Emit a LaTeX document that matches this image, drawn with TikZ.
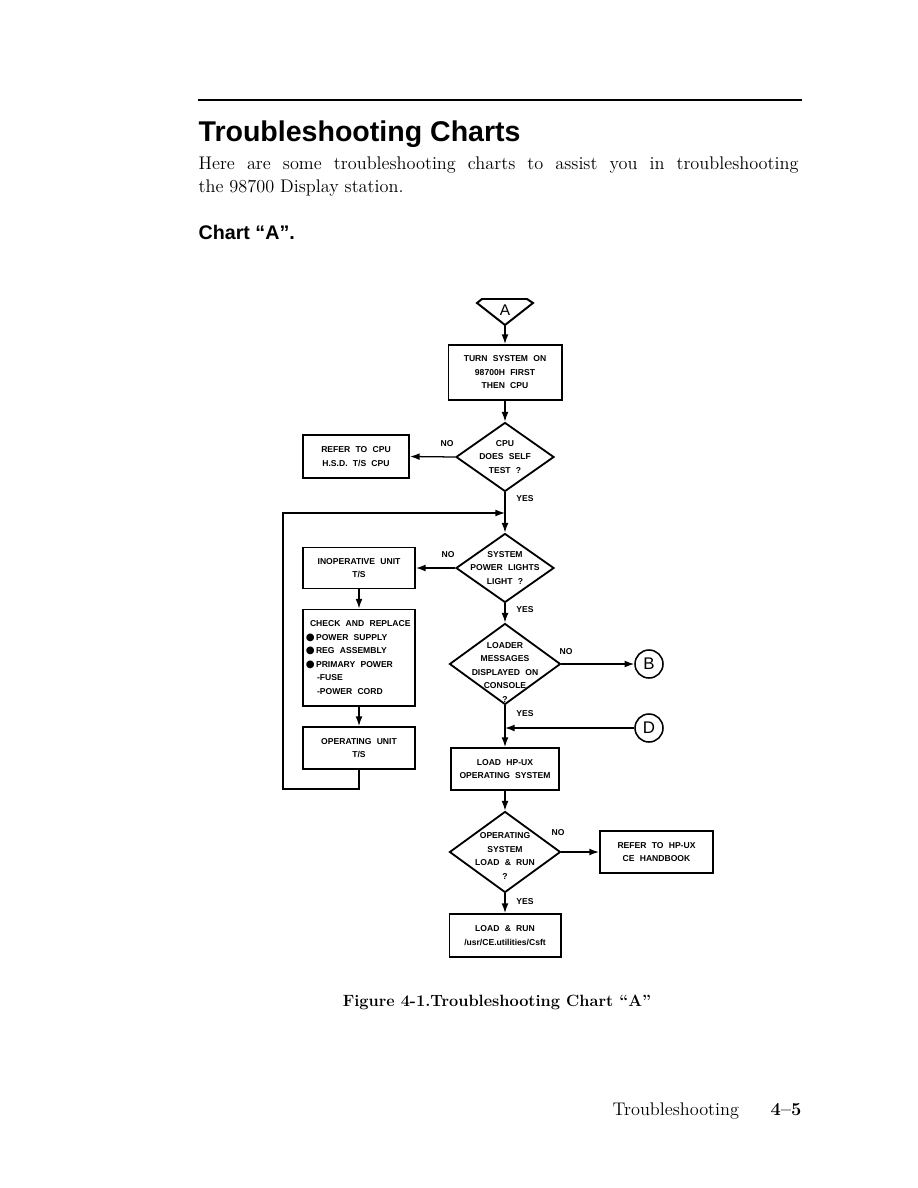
\documentclass[tikz,border=0pt]{standalone}
\usepackage{fontspec}
\setsansfont{Liberation Sans}
\newfontfamily\chartfont[WordSpace=2.2]{Liberation Sans}
\newfontfamily\symfont{DejaVu Sans}
\usetikzlibrary{arrows.meta, positioning, shapes.geometric}
\newcommand{\blt}{{\symfont\fontsize{7.2}{7.2}\selectfont ●}\,}
\tikzset{
  every picture/.style={line width=0.9pt},
  chart/.style={font=\chartfont\bfseries\fontsize{6.1}{9.6}\selectfont},
  box/.style={chart, draw, line width=1.4pt, align=center, inner sep=2pt},
  dec/.style={draw, diamond, line width=1.3pt, inner sep=0pt, minimum width=#1},
  dtext/.style={chart, align=center, inner sep=0pt},
  lbl/.style={chart, inner sep=0pt},
  arrow/.style={-{Latex[length=2.4mm, width=1.7mm]}, line width=0.9pt},
  cnr/.style={draw, circle, minimum size=0.7cm, inner sep=0pt, line width=1.1pt, font=\sffamily\fontsize{12}{12}\selectfont},
  title/.style={font=\sffamily\bfseries\fontsize{20.3}{24}\selectfont, inner sep=0pt},
  subtitle/.style={font=\sffamily\bfseries\fontsize{14}{17}\selectfont, inner sep=0pt},
  body/.style={font=\fontsize{13}{16}\selectfont, inner sep=0pt},
}
\begin{document}
\begin{tikzpicture}[x=0.025cm, y=-0.025cm]
  \useasboundingbox (0,0) rectangle (918,1188);

  % page heading
  \draw[line width=1.5pt] (198,100) -- (802,100);
  \node[title, anchor=base west] (head) at (198,142) {Troubleshooting Charts};
  \node[body, anchor=base west] (intro1) at (198,170) {\makebox[426.6pt][s]{Here are some troubleshooting charts to assist you in troubleshooting}};
  \node[body, anchor=base west] (intro2) at (198,193) {the 98700 Display station.};
  \node[subtitle, anchor=base west] (charta) at (198,240) {Chart “A”.};

  % off-page connector A
  \draw[line width=1.4pt] (482,299) -- (527,299) -- (533,303) -- (505,325) -- (477,303) -- cycle;
  \node[font=\sffamily\fontsize{11}{11}\selectfont, inner sep=0pt] (pa) at (505,310) {A};
  \coordinate (atip) at (505,325);

  % main column
  \node[box, minimum width=2.825cm, minimum height=1.375cm] (turn) at (505,372.5) {TURN SYSTEM ON\\98700H FIRST\\THEN CPU};
  \node[dec=2.45cm, minimum height=1.725cm] (d1) at (505,457) {};
  \node[dtext] (d1t) at (d1) {CPU\\DOES SELF\\TEST ?};
  \node[dec=2.45cm, minimum height=1.725cm] (d2) at (505,568) {};
  \node[dtext] (d2t) at (d2) {SYSTEM\\POWER LIGHTS\\LIGHT ?};
  \node[dec=2.775cm, minimum height=2.025cm] (d3) at (505,664) {};
  \node[dtext] (d3t) at (505,672) {LOADER\\MESSAGES\\DISPLAYED ON\\CONSOLE\\?};
  \node[box, minimum width=2.7cm, minimum height=1.05cm] (hpux) at (505,769) {LOAD HP-UX\\OPERATING SYSTEM};
  \node[dec=2.775cm, minimum height=2.025cm] (d4) at (505,852) {};
  \node[dtext] (d4t) at (505,856) {OPERATING\\SYSTEM\\LOAD \& RUN\\?};
  \node[box, minimum width=2.775cm, minimum height=1.075cm] (run) at (505,935.5) {LOAD \& RUN\\/usr/CE.utilities/Csft};
  \coordinate (jn1) at (505,513);
  \coordinate (jn2) at (505,728);

  \draw[arrow] (atip) -- (turn);
  \draw[arrow] (turn) -- (d1);
  \draw[arrow] (d1) -- (d2);
  \draw[arrow] (d2) -- (d3);
  \draw[arrow] (d3) -- (hpux);
  \draw[arrow] (hpux) -- (d4);
  \draw[arrow] (d4) -- (run);

  % left side
  \node[box, minimum width=2.65cm, minimum height=1.075cm] (refcpu) at (356,456.5) {REFER TO CPU\\H.S.D. T/S CPU};
  \node[box, minimum width=2.8cm, minimum height=1.025cm] (inop) at (359,568) {INOPERATIVE UNIT\\T/S};
  \node[box, minimum width=2.8cm, minimum height=2.4cm, text width=2.66cm, align=left] (check) at (359,657.5)
    {\spaceskip=0pt\relax\hspace*{3pt}CHECK AND REPLACE\\\blt POWER SUPPLY\\\blt REG ASSEMBLY\\\blt PRIMARY POWER\\\hspace*{8pt}-FUSE\\\hspace*{8pt}-POWER CORD};
  \node[box, minimum width=2.8cm, minimum height=1.05cm] (opunit) at (359,748) {OPERATING UNIT\\T/S};
  \coordinate (loopb) at (283,789);

  \draw[arrow] (d1.west) -- (refcpu.east);
  \draw[arrow] (d2.west) -- (inop.east);
  \draw[arrow] (inop) -- (check);
  \draw[arrow] (check) -- (opunit);
  \draw[arrow] (opunit.south) |- (loopb) |- (jn1);

  % right side
  \node[cnr] (cb) at (649,664) {B};
  \node[cnr] (cd) at (649,728) {D};
  \node[box, minimum width=2.825cm, minimum height=1.05cm] (refhpux) at (656.5,852) {REFER TO HP-UX\\CE HANDBOOK};
  \draw[arrow] (d3.east) -- (cb.west);
  \draw[arrow] (cd.west) -- (jn2);
  \draw[arrow] (d4.east) -- (refhpux.west);

  % yes / no
  \node[lbl] (no1) at (447,444) {NO};
  \node[lbl] (yes1) at (525,499) {YES};
  \node[lbl] (no2) at (448,555) {NO};
  \node[lbl] (yes2) at (525,610) {YES};
  \node[lbl] (no3) at (566,652) {NO};
  \node[lbl] (yes3) at (525,714) {YES};
  \node[lbl] (no4) at (558,833) {NO};
  \node[lbl] (yes4) at (525,902) {YES};

  % caption and footer
  \node[font=\bfseries\fontsize{11.6}{14}\selectfont, inner sep=0pt, anchor=base] (cap) at (497,1006) {Figure 4-1.Troubleshooting Chart “A”};
  \node[body, anchor=base west] (foot) at (612,1115) {Troubleshooting};
  \node[font=\bfseries\fontsize{13}{16}\selectfont, inner sep=0pt, anchor=base east] (page) at (802,1115) {4--5};
\end{tikzpicture}
\end{document}
